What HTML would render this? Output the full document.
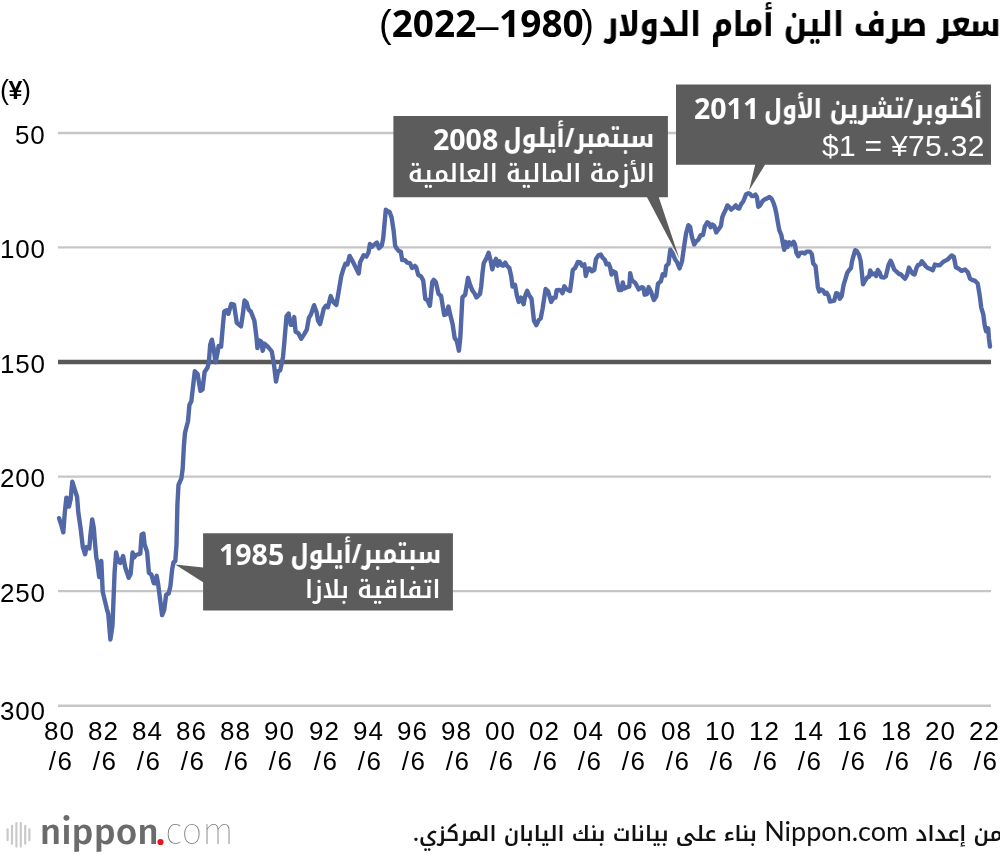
<!DOCTYPE html>
<html lang="ar"><head><meta charset="utf-8"><title>سعر صرف الين أمام الدولار</title>
<style>
html,body{margin:0;padding:0;background:#fff;}
body{width:1000px;height:856px;position:relative;overflow:hidden;}
.abs{position:absolute;white-space:nowrap;}
#t-ar,#t-num,#yen,.yl,.xl,.nl,.nn,#foot{will-change:transform;}
#t-ar{position:absolute;right:-1px;top:-3px;direction:rtl;white-space:nowrap;font-family:'Noto Kufi Arabic','DejaVu Sans',sans-serif;font-weight:800;font-size:34px;line-height:56px;color:#000;transform:scaleX(0.862);transform-origin:100% 50%;}
#t-num .pp{font-family:'Liberation Sans',Arial,sans-serif;font-weight:400;font-size:38px;}
#t-num .dd{font-family:'Liberation Sans',Arial,sans-serif;font-weight:400;font-size:40px;position:relative;top:1.5px;margin:0 0.5px 0 0;}
#t-num .pp:first-child{margin-left:-2.5px;}
#t-num{position:absolute;left:379px;top:-4.6px;white-space:nowrap;font-family:'Noto Sans','Liberation Sans',sans-serif;font-weight:700;font-size:37px;line-height:56px;color:#000;}
.yl{position:absolute;right:954.5px;font-family:'Liberation Sans',Arial,sans-serif;font-size:26px;line-height:30px;letter-spacing:0.8px;color:#000;white-space:nowrap;}
.xl .m{position:relative;left:2.2px;letter-spacing:1.6px;}
.xl{position:absolute;top:717px;width:50px;text-align:center;font-family:'Liberation Sans',Arial,sans-serif;font-size:26px;line-height:29.5px;letter-spacing:1.2px;text-indent:1.2px;color:#000;}
#yen .yb{font-weight:700;font-size:25px;margin:0 -0.5px;}
#yen{position:absolute;left:0px;top:75px;font-family:'Liberation Sans',Arial,sans-serif;font-size:27px;line-height:30px;}
.nl{position:absolute;direction:rtl;white-space:nowrap;color:#fff;font-family:'Noto Kufi Arabic','DejaVu Sans',sans-serif;line-height:40px;}
.nl.b{font-weight:800;font-size:26.5px;transform:scaleX(0.855);transform-origin:100% 50%;}
.nn{position:absolute;white-space:nowrap;color:#fff;font-family:'Noto Sans','Liberation Sans',sans-serif;font-size:28.5px;font-weight:700;line-height:40px;}
.nl.b .n{font-family:'Noto Sans','Liberation Sans',sans-serif;font-size:28.5px;font-weight:700;line-height:10px;position:relative;top:2px;}
.nl.r{font-weight:600;font-size:24.4px;}
.nl.l{font-family:'Liberation Sans',Arial,sans-serif;font-size:30px;letter-spacing:0.3px;direction:ltr;}
#foot{position:absolute;right:-3px;top:814.3px;direction:rtl;white-space:nowrap;font-family:'Noto Kufi Arabic','DejaVu Sans',sans-serif;font-size:21.2px;font-weight:600;color:#111;line-height:40px;}
#foot .lt{font-family:Lato,'Liberation Sans',sans-serif;font-weight:400;font-size:27px;line-height:10px;}
#logo{position:absolute;left:0;top:808px;width:240px;height:48px;}
</style></head><body>
<div id="t-ar">سعر صرف الين أمام الدولار</div>
<div id="t-num" dir="rtl"><span class="pp">(</span>1980<span class="dd">–</span>2022<span class="pp">)</span></div>
<div id="yen">(<span class="yb">¥</span>)</div>
<div class="yl" style="top:119.5px">50</div><div class="yl" style="top:233.6px">100</div><div class="yl" style="top:348.5px">150</div><div class="yl" style="top:463.0px">200</div><div class="yl" style="top:577.5px">250</div><div class="yl" style="top:696.2px">300</div>
<svg class="abs" style="left:0;top:0" width="1000" height="856" viewBox="0 0 1000 856">
<line x1="58" y1="133" x2="991" y2="133" stroke="#c6c6c6" stroke-width="2.4"/><line x1="58" y1="247.4" x2="991" y2="247.4" stroke="#c6c6c6" stroke-width="2.4"/><line x1="58" y1="476.6" x2="991" y2="476.6" stroke="#c6c6c6" stroke-width="2.4"/><line x1="58" y1="591.1" x2="991" y2="591.1" stroke="#c6c6c6" stroke-width="2.4"/><line x1="58" y1="705.8" x2="991" y2="705.8" stroke="#c6c6c6" stroke-width="2.4"/><line x1="58" y1="362" x2="991" y2="362" stroke="#585858" stroke-width="4.4"/>
<path d="M59.1,518.2 L61,524 L63.3,532.3 L64.8,512.4 L66.4,497.6 L68.1,498.9 L69,506.6 L70.6,499.6 L72.3,481.6 L74.5,488.6 L77.1,497 L78.3,512.4 L80.9,530.4 L82.8,547.1 L85.1,554.2 L86.7,547.1 L89.3,548.4 L90.5,534.2 L92.2,519.5 L93.8,527.8 L95,543.2 L96.3,557.4 L97.3,562 L99.2,577 L101.3,561 L102.7,591.8 L106.8,608.8 L108.3,614.2 L110.4,639.5 L112.5,625.4 L114.6,572.1 L116.1,552.5 L118.2,560.9 L120.3,563 L123.1,556 L125.2,567.2 L128.7,577.7 L130.6,574 L132.6,552.5 L134.2,557.4 L136,555 L140.3,553.7 L141.6,534.7 L143.4,533.5 L144.6,544.5 L147.1,551.9 L148.9,572.8 L151.4,574.6 L153.8,583.2 L155.1,583.2 L156.7,575.8 L158.1,583.8 L160.6,603.4 L162.1,615.1 L164.3,609.6 L166.1,594.8 L168.6,593.6 L170.4,586.3 L172.2,569.1 L173.5,562.3 L175.3,561.1 L176.5,544.5 L177.4,504.6 L178.5,485 L181.4,478.4 L182.7,468.6 L183.9,445.8 L185,432.7 L188,421.2 L189.4,405 L191.3,401.4 L194.8,371.3 L197.6,374.1 L200.4,390.9 L202.5,389.5 L204.6,372 L207.4,367.8 L208.8,362.9 L210.2,344.6 L211.9,339.7 L213.7,348.8 L215.5,362.2 L217.5,353 L218.6,346 L221.1,346.7 L222.8,326.4 L224.2,311.7 L226.3,310.3 L228.4,313.8 L231.2,304 L234,304.7 L236.8,322.9 L241,326.4 L243.1,312.4 L244.5,300.5 L246.6,302.6 L248.7,309.6 L250.9,311.7 L254.4,320.8 L256.5,337.6 L257.4,348.1 L259.3,340.4 L261.3,341.6 L262.7,350.8 L264.5,343.7 L266.9,345.8 L269,348 L271.8,351.5 L273.9,364.1 L276,381.6 L278.1,371.1 L280.2,370.4 L283,357.1 L284.4,341.6 L286.5,316.4 L288.6,313.6 L290.7,324.8 L292.8,324.8 L294.2,317.1 L295.6,331.8 L298.4,333.2 L301.2,338.8 L304,334.6 L306.8,329.7 L308.9,317.8 L311,314.3 L314.1,305.2 L316.6,312.2 L318,320.6 L320.1,324.1 L322.3,315 L323.7,308.7 L325.8,305.9 L327.9,307.3 L330.7,296.1 L332.1,299.6 L333.5,302.2 L336.3,305 L338.4,293.1 L341.2,276.3 L343.3,269.3 L345.4,263.7 L347.5,264.4 L349.6,255.9 L352.4,260.8 L355.9,267.9 L358.7,273.5 L360.1,262.2 L363.6,255.2 L366.4,256.6 L368.5,252.4 L369.9,244 L372,246.8 L374.1,244.7 L376.9,242.6 L379,248.2 L381.8,245.4 L383.2,238.4 L384.6,223 L385.8,209.7 L387.4,211.1 L389.5,211.8 L391.6,217.4 L393.7,231.4 L395.1,245.4 L396.5,248.2 L398.7,251 L400.8,251.7 L402.2,260.1 L405,260.1 L407.1,262.6 L409.9,263.1 L412,268 L414.8,265.9 L416.2,267.3 L418.3,275 L421.1,276.4 L423.2,280.6 L425.3,298.8 L427.4,300.2 L429.9,305.8 L432.3,282 L433.7,279.9 L435.8,282 L438.6,293.9 L441.1,296 L444.2,315 L446.3,314.3 L448.4,306.5 L450.5,315.7 L452.6,324.1 L454.7,338.1 L456.8,340.9 L458.9,350.7 L460.3,338.1 L462.4,297.4 L465.2,294.6 L468,277.8 L470.1,284.8 L472.3,290.4 L474.4,293.2 L476.5,297.4 L480,293.9 L481.2,286.5 L482.5,273 L483.7,263.2 L486.1,258.9 L488.6,252.8 L490.4,259.5 L492.3,269.4 L494.1,263.2 L496,258.9 L497.8,265.7 L499.6,261.4 L501.5,265.1 L503.3,265.7 L505.2,262.6 L507,265.7 L509.4,268.1 L511.3,276.7 L512.5,286.5 L515,284.7 L516.8,295.1 L518.7,301.9 L521.1,297.6 L523.6,304.3 L525.4,295.1 L527.2,290.8 L529.1,295.1 L531.5,298.8 L534,320.9 L536.4,325.2 L538.9,319.7 L540.7,318.4 L542.6,308.6 L545.6,289 L548.1,291.4 L551.2,301.9 L553.6,297.6 L555.5,297.6 L556.7,290.2 L558.7,290 L561.1,290.5 L562.5,293.3 L564.3,286.3 L566.2,289.1 L570,291 L571.4,281.1 L572.8,269.9 L575.1,268 L577.9,262 L580.2,262.4 L582.1,265.7 L584.4,264.3 L585.8,276 L587.7,269 L589.6,268.5 L591.9,271.3 L594.3,269.9 L596.1,258.7 L598.5,255.4 L600.8,254.5 L602.7,257.8 L605,260.1 L606.4,264.3 L608.7,263.8 L610.1,267.1 L611.5,274.6 L613.4,271.3 L615.7,272.7 L617.1,282.1 L619,290 L621.4,290 L622.8,282.5 L624.2,288.6 L627,287.2 L629.3,286.7 L630.2,273.2 L631.8,280.1 L635.3,283 L638.8,289.4 L641.7,287.1 L643.4,287.7 L644.6,294.7 L646.9,294.1 L648.7,287.1 L651,291.8 L653.9,299.9 L656.3,296.4 L658,283.6 L660.9,281.2 L662.7,274.2 L665,275.4 L666.2,266.1 L668.5,263.7 L670.3,249.7 L672.6,253.2 L675,259.1 L677.3,262.6 L679.6,268.4 L682,261.4 L684.3,245 L686.1,233.4 L688.4,225.2 L690.1,226.9 L691.9,236.9 L694.2,244.5 L696,241.5 L698.3,239.8 L700.7,235.1 L703,235.1 L704.7,226.9 L707.3,222.2 L709.2,223.6 L710.6,227.3 L712.5,224.5 L714.3,225.9 L716.2,232.5 L718.6,229.2 L720.9,225.9 L722.3,217.1 L723.7,213.8 L725.6,210 L727.4,205.4 L729.3,207.2 L731.2,209.6 L734,207.2 L735.8,205.4 L737.7,208.2 L739.1,208.6 L741,204.4 L743.3,201.2 L744.7,197.9 L746.1,194.2 L748.5,193.2 L750.3,194.2 L751.7,196 L753.6,196 L755.5,194.6 L756.9,197 L758.3,206.8 L760.1,205.4 L762.5,201.2 L764.8,199.3 L767.1,198.4 L769.5,197 L771.4,198.4 L773.2,202.1 L775.1,207.7 L776.5,214.3 L777.9,222.7 L779.3,230.1 L781.4,235.3 L782.8,242.8 L784.2,249.8 L785.6,241.8 L787.5,247 L789.3,242.3 L791.7,244.6 L793.6,241.8 L795,244.6 L796.4,253 L798.2,256.3 L800.1,253 L802.4,252.6 L804.8,253.5 L806.6,251.6 L809.9,251.6 L811.8,254 L813.2,263.3 L815.5,266.1 L816.9,278.3 L817.9,287.6 L819.3,291.4 L821.1,289.5 L823,290.4 L824.9,293.7 L826.7,292.8 L828.6,296 L830,301.6 L832.3,301.2 L834.2,300.7 L836.1,293.2 L837.9,293.7 L839.8,298.8 L841.7,296 L843.6,284.8 L845.4,279.2 L847.3,272.7 L849.2,269.9 L851,268 L852,261.4 L853.8,254.9 L855.2,250.2 L856.6,250.7 L859,254.8 L860.6,260.8 L861.8,272 L863,284.4 L865,280.8 L867,277.6 L869,276.8 L870.2,270.4 L871.8,274.4 L874.2,273.6 L876.2,276 L877.8,270 L879.4,272 L881.4,277.2 L883.8,277.6 L885.8,276.4 L888.6,264.8 L890.6,260.8 L892.2,264 L894.2,269.6 L896.6,271.6 L899,274 L901,274.4 L903,276.8 L905,278.8 L907,275.2 L909,267.6 L911,271.2 L912.6,273.6 L914.6,274.4 L916.6,267.6 L918.2,264.8 L920.2,264.4 L921.8,261.2 L923.8,263.6 L925.8,266.4 L927.8,268 L930.2,268.8 L932.8,270.2 L934.9,264.5 L937,265.2 L939.8,265.2 L943.3,261.7 L947.5,259.6 L951.7,255.4 L953.8,256.8 L955.9,267.3 L958.8,268.8 L961.6,270.9 L965.1,269.5 L967.9,272.3 L970,278.6 L972.1,280 L974.9,280.7 L977.7,283.5 L979.8,296.1 L981.2,307.3 L983.3,314.3 L984.7,325.6 L986.1,331.2 L988.2,328.4 L988.9,338.2 L990,346.6" fill="none" stroke="#5267a6" stroke-width="4.4" stroke-linejoin="round" stroke-linecap="round"/>
<path d="M676,84.6 H991 V164.8 H765 L749,190.5 L755.2,164.8 H676 Z" fill="#5c5c5c"/>
<path d="M393.4,115.9 H667.9 V197.2 H658.8 L679.4,258.7 L647,197.2 H393.4 Z" fill="#5c5c5c"/>
<path d="M203.1,533.2 H452.9 V610.4 H203.1 V582.3 L175.2,564.4 L203.1,567.6 Z" fill="#5c5c5c"/>
</svg>
<div class="xl" style="left:34.20px">80<br><span class="m">/6</span></div><div class="xl" style="left:78.25px">82<br><span class="m">/6</span></div><div class="xl" style="left:122.30px">84<br><span class="m">/6</span></div><div class="xl" style="left:166.35px">86<br><span class="m">/6</span></div><div class="xl" style="left:210.40px">88<br><span class="m">/6</span></div><div class="xl" style="left:254.45px">90<br><span class="m">/6</span></div><div class="xl" style="left:298.50px">92<br><span class="m">/6</span></div><div class="xl" style="left:342.55px">94<br><span class="m">/6</span></div><div class="xl" style="left:386.60px">96<br><span class="m">/6</span></div><div class="xl" style="left:430.65px">98<br><span class="m">/6</span></div><div class="xl" style="left:474.70px">00<br><span class="m">/6</span></div><div class="xl" style="left:518.75px">02<br><span class="m">/6</span></div><div class="xl" style="left:562.80px">04<br><span class="m">/6</span></div><div class="xl" style="left:606.85px">06<br><span class="m">/6</span></div><div class="xl" style="left:650.90px">08<br><span class="m">/6</span></div><div class="xl" style="left:694.95px">10<br><span class="m">/6</span></div><div class="xl" style="left:739.00px">12<br><span class="m">/6</span></div><div class="xl" style="left:783.05px">14<br><span class="m">/6</span></div><div class="xl" style="left:827.10px">16<br><span class="m">/6</span></div><div class="xl" style="left:871.15px">18<br><span class="m">/6</span></div><div class="xl" style="left:915.20px">20<br><span class="m">/6</span></div><div class="xl" style="left:959.25px">22<br><span class="m">/6</span></div>
<div id="a1" class="nl b" style="right:18px;top:88.5px">أكتوبر/تشرين الأول</div><div id="a1n" class="nn" style="left:693.5px;top:87.5px">2011</div><div id="a2" class="nl l" style="right:15px;top:125.5px">$1 = ¥75.32</div><div id="b1" class="nl b" style="right:345.5px;top:118px">سبتمبر/أيلول</div><div id="b1n" class="nn" style="left:433px;top:118.5px">2008</div><div id="b2" class="nl r" style="right:345px;top:153.6px">الأزمة المالية العالمية</div><div id="c1" class="nl b" style="right:559px;top:534px">سبتمبر/أيلول</div><div id="c1n" class="nn" style="left:219px;top:533.5px">1985</div><div id="c2" class="nl r" style="right:559px;top:570px">اتفاقية بلازا</div>
<svg id="logo" width="240" height="48" viewBox="0 808 240 48">
<g stroke="#c9c9c9" stroke-width="2.2" stroke-linecap="round">
<line x1="7.6" y1="829.4" x2="7.6" y2="840.2"/>
<line x1="12" y1="825.8" x2="12" y2="843.8"/>
<line x1="16.4" y1="823" x2="16.4" y2="846.6"/>
<line x1="20.8" y1="823" x2="20.8" y2="846.6"/>
<line x1="25.2" y1="825.8" x2="25.2" y2="843.8"/>
<line x1="29.4" y1="829.4" x2="29.4" y2="840.2"/>
</g>
<text x="39.7" y="844.4" font-family="'Fira Sans','DejaVu Sans',sans-serif" font-weight="500" font-size="37" fill="#6b6b6b" textLength="119.14" lengthAdjust="spacingAndGlyphs">nippon</text>
<circle cx="160.5" cy="842" r="3.1" fill="#e8141c"/>
<text x="165" y="844.4" font-family="'Fira Sans','DejaVu Sans',sans-serif" font-weight="200" font-size="37" fill="#7a7a7a" textLength="68.72" lengthAdjust="spacingAndGlyphs">com</text>
</svg>
<div id="foot">من إعداد <span class="lt">Nippon.com</span> بناء على بيانات بنك اليابان المركزي.</div>
<script>
(function(){
var T={"t-ar": [396.2, "r"], "t-num": [214.88, "l"], "a1": [218.31, "r"], "a1n": [65.22, "l"], "a2": [162.62, "r"], "b1": [150.64, "r"], "b1n": [65.22, "l"], "b2": [246.8, "r"], "c1": [150.64, "r"], "c1n": [65.22, "l"], "c2": [135.52, "r"], "foot": [589.62, "r"]};
function fit(){
 for(var id in T){
  var el=document.getElementById(id); if(!el) continue;
  el.style.transform='none';
  var w=el.getBoundingClientRect().width; if(!w) continue;
  var k=T[id][0]/w; if(Math.abs(k-1)<0.002) k=1;
  el.style.transformOrigin=(T[id][1]=='r'?'100% 50%':'0 50%');
  el.style.transform='scaleX('+k.toFixed(4)+')';
 }
}
fit();
if(document.fonts&&document.fonts.ready){document.fonts.ready.then(fit);}
})();
</script>
</body></html>
